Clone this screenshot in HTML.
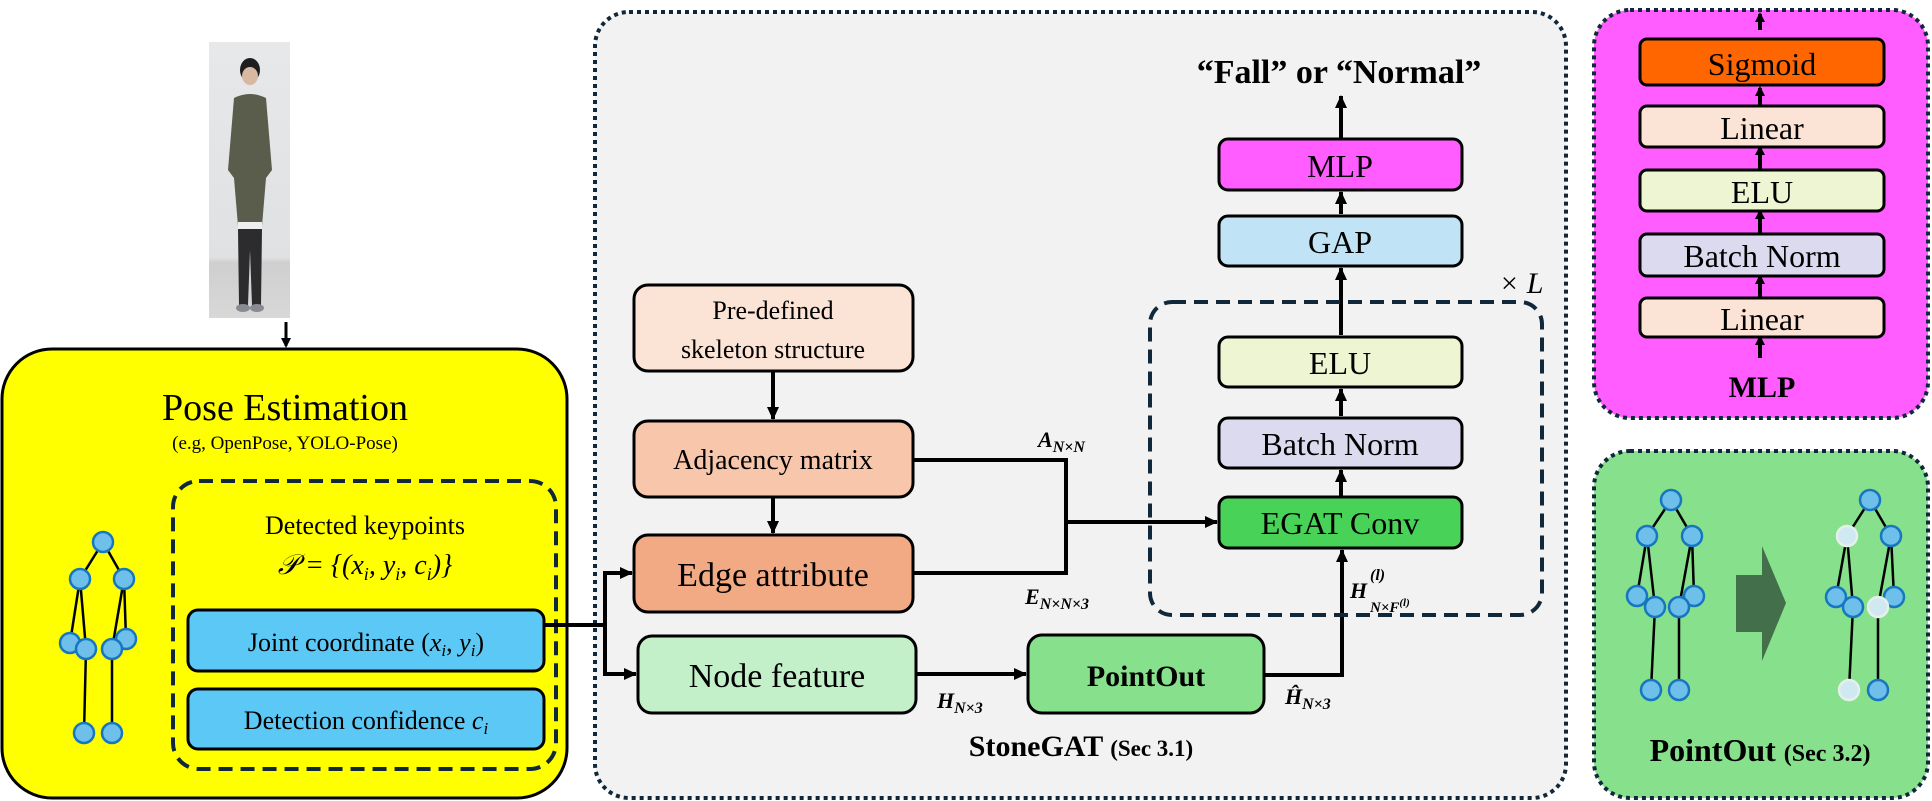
<!DOCTYPE html>
<html><head><meta charset="utf-8"><style>
html,body{margin:0;padding:0;background:#fff;}
svg{display:block;}
</style></head><body>
<svg width="1932" height="801" viewBox="0 0 1932 801" xmlns="http://www.w3.org/2000/svg" font-family="'Liberation Serif', serif">
<defs>
<marker id="ah" markerWidth="10" markerHeight="10" refX="8" refY="5" orient="auto" markerUnits="userSpaceOnUse">
<path d="M0,0 L10,5 L0,10 z" fill="#000"/></marker>
<marker id="as" markerWidth="14" markerHeight="14" refX="12" refY="7" orient="auto" markerUnits="userSpaceOnUse">
<path d="M0,1 L13,7 L0,13 z" fill="#000"/></marker>
<linearGradient id="bg" x1="0" y1="0" x2="0" y2="1"><stop offset="0" stop-color="#e6e8ea"/><stop offset="0.78" stop-color="#dfe1e3"/><stop offset="0.8" stop-color="#cfcfcf"/><stop offset="1" stop-color="#d8d8d8"/></linearGradient>
</defs>

<!-- photo -->
<rect x="209" y="42" width="81" height="276" fill="url(#bg)"/>
<ellipse cx="250" cy="70" rx="10" ry="12" fill="#1e1e1e"/>
<ellipse cx="250" cy="76" rx="8" ry="9" fill="#d8b8a0"/>
<path d="M234,98 Q250,90 266,98 L272,170 L266,178 L262,226 L238,226 L234,178 L228,170 Z" fill="#5a5c4c"/>
<rect x="238" y="222" width="24" height="7" fill="#eee"/>
<path d="M238,229 L262,229 L261,305 L252,305 L250,250 L248,305 L239,305 Z" fill="#2c2c2e"/>
<ellipse cx="243" cy="308" rx="7" ry="4" fill="#888a94"/>
<ellipse cx="257" cy="308" rx="7" ry="4" fill="#888a94"/>
<line x1="286" y1="322" x2="286" y2="346" stroke="#000" stroke-width="3" marker-end="url(#ah)"/>

<!-- Yellow pose estimation -->
<rect x="2" y="349" width="565" height="449" rx="50" fill="#ffff00" stroke="#000" stroke-width="3"/>
<text x="285" y="420" font-size="38" text-anchor="middle">Pose Estimation</text>
<text x="285" y="449" font-size="19" text-anchor="middle">(e.g, OpenPose, YOLO-Pose)</text>
<rect x="173" y="481" width="383" height="288" rx="26" fill="none" stroke="#10283a" stroke-width="4" stroke-dasharray="14,8"/>
<text x="365" y="534" font-size="26" text-anchor="middle">Detected keypoints</text>
<text x="365" y="574" font-size="28" text-anchor="middle" font-style="italic">𝒫 = {(x<tspan font-size="18" dy="6">i</tspan><tspan dy="-6">, y</tspan><tspan font-size="18" dy="6">i</tspan><tspan dy="-6">, c</tspan><tspan font-size="18" dy="6">i</tspan><tspan dy="-6">)}</tspan></text>
<rect x="188" y="610" width="356" height="61" rx="10" fill="#5bc8f5" stroke="#000" stroke-width="3"/>
<text x="366" y="651" font-size="26" text-anchor="middle">Joint coordinate (<tspan font-style="italic">x</tspan><tspan font-size="17" font-style="italic" dy="5">i</tspan><tspan dy="-5">, </tspan><tspan font-style="italic">y</tspan><tspan font-size="17" font-style="italic" dy="5">i</tspan><tspan dy="-5">)</tspan></text>
<rect x="188" y="689" width="356" height="60" rx="10" fill="#5bc8f5" stroke="#000" stroke-width="3"/>
<text x="366" y="729" font-size="26" text-anchor="middle">Detection confidence <tspan font-style="italic">c</tspan><tspan font-size="17" font-style="italic" dy="5">i</tspan></text>

<!-- yellow skeleton -->
<g stroke="#000" stroke-width="2.5">
<line x1="103" y1="542" x2="80" y2="579"/><line x1="103" y1="542" x2="124" y2="579"/>
<line x1="80" y1="579" x2="70" y2="643"/><line x1="80" y1="579" x2="86" y2="649"/>
<line x1="124" y1="579" x2="126" y2="639"/><line x1="124" y1="579" x2="112" y2="649"/>
<line x1="86" y1="649" x2="84" y2="733"/><line x1="112" y1="649" x2="112" y2="733"/>
</g>
<g fill="#6ec0ea" stroke="#1676c0" stroke-width="2.5">
<circle cx="103" cy="542" r="10"/><circle cx="80" cy="579" r="10"/><circle cx="124" cy="579" r="10"/>
<circle cx="70" cy="643" r="10"/><circle cx="126" cy="639" r="10"/><circle cx="86" cy="649" r="10"/><circle cx="112" cy="649" r="10"/>
<circle cx="84" cy="733" r="10"/><circle cx="112" cy="733" r="10"/>
</g>

<!-- StoneGAT gray -->
<rect x="595" y="12" width="971" height="786" rx="34" fill="#f2f2f2" stroke="#10283a" stroke-width="4" stroke-dasharray="4,4"/>
<text x="1081" y="756" font-size="30" font-weight="bold" text-anchor="middle">StoneGAT <tspan font-size="23">(Sec 3.1)</tspan></text>
<text x="1339" y="83" font-size="34" font-weight="bold" text-anchor="middle">“Fall” or “Normal”</text>

<rect x="634" y="285" width="279" height="86" rx="14" fill="#fbe3d6" stroke="#000" stroke-width="3"/>
<text x="773" y="319" font-size="26" text-anchor="middle">Pre-defined</text>
<text x="773" y="358" font-size="26" text-anchor="middle">skeleton structure</text>
<rect x="634" y="421" width="279" height="76" rx="14" fill="#f8c6aa" stroke="#000" stroke-width="3"/>
<text x="773" y="469" font-size="28" text-anchor="middle">Adjacency matrix</text>
<rect x="634" y="535" width="279" height="77" rx="14" fill="#f2aa84" stroke="#000" stroke-width="3"/>
<text x="773" y="586" font-size="34" text-anchor="middle">Edge attribute</text>
<rect x="638" y="636" width="278" height="77" rx="14" fill="#c4f0c9" stroke="#000" stroke-width="3"/>
<text x="777" y="687" font-size="34" text-anchor="middle">Node feature</text>
<rect x="1028" y="635" width="236" height="78" rx="14" fill="#86e08c" stroke="#000" stroke-width="3"/>
<text x="1146" y="686" font-size="30" font-weight="bold" text-anchor="middle">PointOut</text>

<g stroke="#000" stroke-width="4" fill="none">
<line x1="773" y1="371" x2="773" y2="419" marker-end="url(#as)"/>
<line x1="773" y1="497" x2="773" y2="533" marker-end="url(#as)"/>
<polyline points="544,625 605,625"/>
<polyline points="605,673 605,573 632,573" marker-end="url(#as)"/>
<polyline points="605,625 605,674 636,674" marker-end="url(#as)"/>
<polyline points="913,460 1066,460 1066,573 913,573"/>
<line x1="1066" y1="522" x2="1217" y2="522" marker-end="url(#as)"/>
<line x1="916" y1="674" x2="1026" y2="674" marker-end="url(#as)"/>
<polyline points="1264,675 1342,675 1342,550" marker-end="url(#as)"/>
<line x1="1341" y1="497" x2="1341" y2="470" marker-end="url(#as)"/>
<line x1="1341" y1="416" x2="1341" y2="389" marker-end="url(#as)"/>
<line x1="1341" y1="335" x2="1341" y2="268" marker-end="url(#as)"/>
<line x1="1341" y1="214" x2="1341" y2="192" marker-end="url(#as)"/>
<line x1="1341" y1="138" x2="1341" y2="96" marker-end="url(#as)"/>
</g>
<g font-size="22" font-weight="bold" font-style="italic">
<text x="1038" y="447">A<tspan font-size="16" dy="5">N×N</tspan></text>
<text x="1025" y="604">E<tspan font-size="16" dy="5">N×N×3</tspan></text>
<text x="937" y="708">H<tspan font-size="16" dy="5">N×3</tspan></text>
<text x="1285" y="704">Ĥ<tspan font-size="16" dy="5">N×3</tspan></text>
<text x="1350" y="598">H</text>
<text x="1370" y="580" font-size="16">(l)</text>
<text x="1370" y="612" font-size="15">N×F<tspan font-size="11" dy="-6">(l)</tspan></text>
</g>

<rect x="1150" y="302" width="392" height="313" rx="22" fill="none" stroke="#10283a" stroke-width="4" stroke-dasharray="14,8"/>
<text x="1499" y="293" font-size="30" font-style="italic">× L</text>
<rect x="1219" y="497" width="243" height="51" rx="9" fill="#48d257" stroke="#000" stroke-width="3"/>
<text x="1340" y="534" font-size="32" text-anchor="middle">EGAT Conv</text>
<rect x="1219" y="418" width="243" height="50" rx="9" fill="#dcdaee" stroke="#000" stroke-width="3"/>
<text x="1340" y="455" font-size="32" text-anchor="middle">Batch Norm</text>
<rect x="1219" y="337" width="243" height="50" rx="9" fill="#eef5d2" stroke="#000" stroke-width="3"/>
<text x="1340" y="374" font-size="32" text-anchor="middle">ELU</text>
<rect x="1219" y="216" width="243" height="50" rx="9" fill="#c0e4f5" stroke="#000" stroke-width="3"/>
<text x="1340" y="253" font-size="32" text-anchor="middle">GAP</text>
<rect x="1219" y="139" width="243" height="51" rx="9" fill="#ff5dff" stroke="#000" stroke-width="3"/>
<text x="1340" y="177" font-size="32" text-anchor="middle">MLP</text>

<!-- MLP magenta -->
<rect x="1594" y="10" width="334" height="408" rx="36" fill="#ff5dff" stroke="#10283a" stroke-width="4" stroke-dasharray="4,4"/>
<g stroke="#000" stroke-width="4">
<line x1="1760" y1="30" x2="1760" y2="14" marker-end="url(#ah)"/>
<line x1="1760" y1="105" x2="1760" y2="88" marker-end="url(#ah)"/>
<line x1="1760" y1="169" x2="1760" y2="147" marker-end="url(#ah)"/>
<line x1="1760" y1="233" x2="1760" y2="211" marker-end="url(#ah)"/>
<line x1="1760" y1="297" x2="1760" y2="276" marker-end="url(#ah)"/>
<line x1="1760" y1="358" x2="1760" y2="337" marker-end="url(#ah)"/>
</g>
<rect x="1640" y="39" width="244" height="46" rx="7" fill="#ff6600" stroke="#000" stroke-width="3"/>
<text x="1762" y="75" font-size="32" text-anchor="middle">Sigmoid</text>
<rect x="1640" y="106" width="244" height="41" rx="7" fill="#fbe3d6" stroke="#000" stroke-width="3"/>
<text x="1762" y="139" font-size="32" text-anchor="middle">Linear</text>
<rect x="1640" y="170" width="244" height="41" rx="7" fill="#eef5d2" stroke="#000" stroke-width="3"/>
<text x="1762" y="203" font-size="32" text-anchor="middle">ELU</text>
<rect x="1640" y="234" width="244" height="42" rx="7" fill="#dcdaee" stroke="#000" stroke-width="3"/>
<text x="1762" y="267" font-size="32" text-anchor="middle">Batch Norm</text>
<rect x="1640" y="298" width="244" height="39" rx="7" fill="#fbe3d6" stroke="#000" stroke-width="3"/>
<text x="1762" y="330" font-size="32" text-anchor="middle">Linear</text>
<text x="1762" y="397" font-size="30" font-weight="bold" text-anchor="middle">MLP</text>

<!-- PointOut green -->
<rect x="1594" y="451" width="334" height="347" rx="36" fill="#86e08c" stroke="#10283a" stroke-width="4" stroke-dasharray="4,4"/>
<g stroke="#000" stroke-width="2.5">
<line x1="1671" y1="500" x2="1647" y2="536"/><line x1="1671" y1="500" x2="1692" y2="536"/>
<line x1="1647" y1="536" x2="1637" y2="596"/><line x1="1647" y1="536" x2="1655" y2="607"/>
<line x1="1692" y1="536" x2="1694" y2="596"/><line x1="1692" y1="536" x2="1679" y2="607"/>
<line x1="1655" y1="607" x2="1651" y2="690"/><line x1="1679" y1="607" x2="1679" y2="690"/>
<line x1="1870" y1="500" x2="1847" y2="536"/><line x1="1870" y1="500" x2="1891" y2="536"/>
<line x1="1847" y1="536" x2="1836" y2="597"/><line x1="1847" y1="536" x2="1853" y2="607"/>
<line x1="1891" y1="536" x2="1894" y2="597"/><line x1="1891" y1="536" x2="1878" y2="607"/>
<line x1="1853" y1="607" x2="1849" y2="690"/><line x1="1878" y1="607" x2="1878" y2="690"/>
</g>
<g fill="#6ec0ea" stroke="#1676c0" stroke-width="2.5">
<circle cx="1671" cy="500" r="10"/><circle cx="1647" cy="536" r="10"/><circle cx="1692" cy="536" r="10"/>
<circle cx="1637" cy="596" r="10"/><circle cx="1694" cy="596" r="10"/><circle cx="1655" cy="607" r="10"/><circle cx="1679" cy="607" r="10"/>
<circle cx="1651" cy="690" r="10"/><circle cx="1679" cy="690" r="10"/>
<circle cx="1870" cy="500" r="10"/><circle cx="1891" cy="536" r="10"/>
<circle cx="1836" cy="597" r="10"/><circle cx="1894" cy="597" r="10"/><circle cx="1853" cy="607" r="10"/>
<circle cx="1878" cy="690" r="10"/>
</g>
<g fill="#cfe8f2" stroke="#e6f0ea" stroke-width="2.5">
<circle cx="1847" cy="536" r="10"/><circle cx="1878" cy="607" r="10"/><circle cx="1849" cy="690" r="10"/>
</g>
<path d="M1736,575 L1762,575 L1762,546 L1786,603 L1762,661 L1762,632 L1736,632 Z" fill="#43704a"/>
<text x="1760" y="761" font-size="32" font-weight="bold" text-anchor="middle">PointOut <tspan font-size="24">(Sec 3.2)</tspan></text>
</svg>
</body></html>
